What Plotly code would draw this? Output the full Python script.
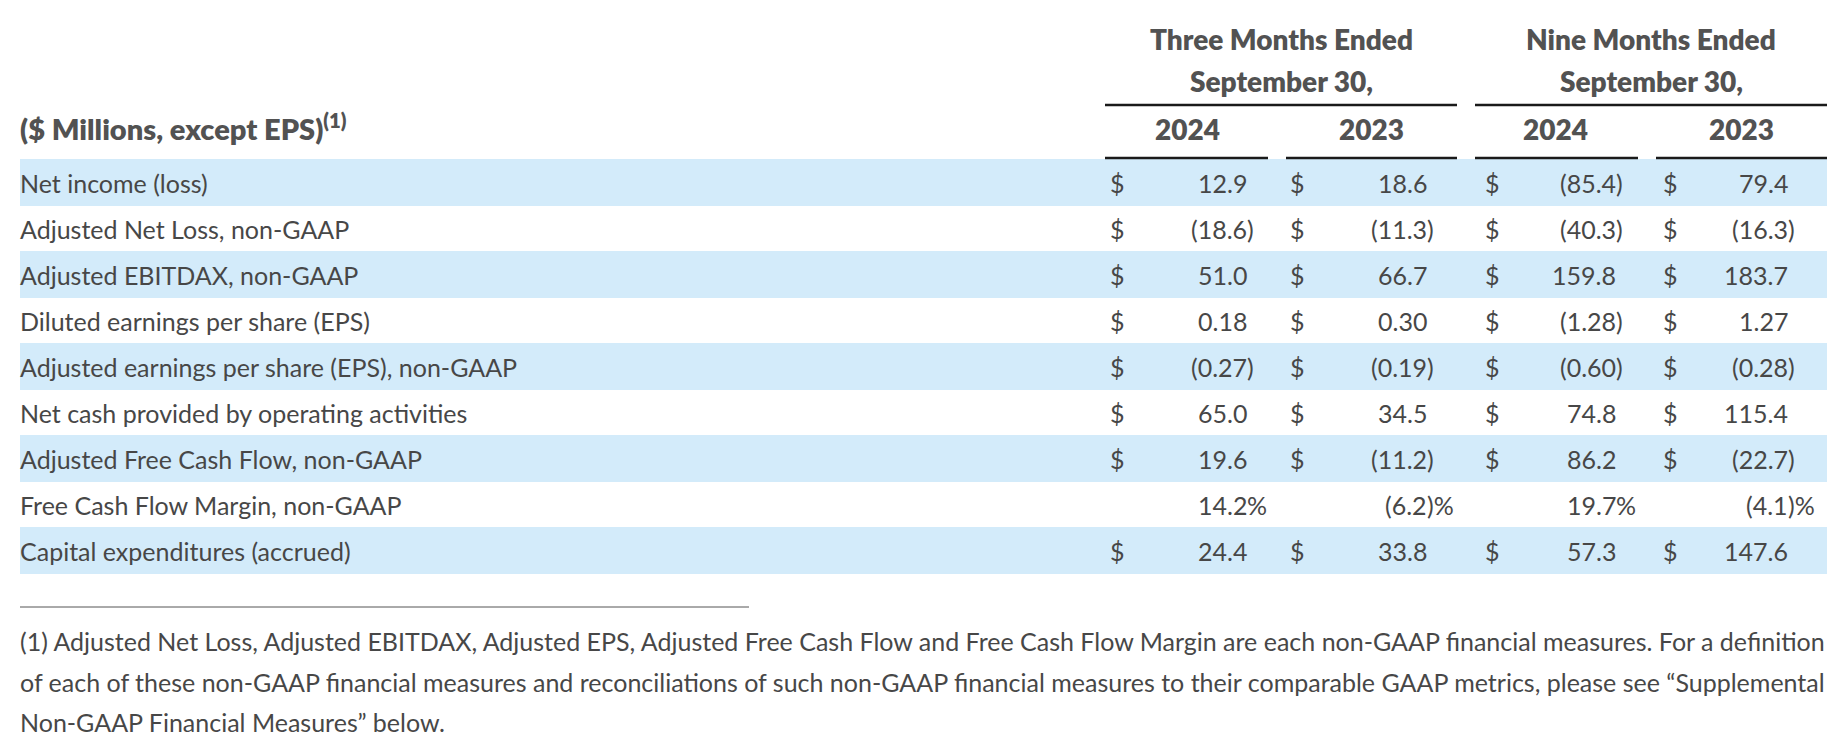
import plotly.graph_objects as go

# ---------------- data ----------------
row_labels = [
    "Net income (loss)",
    "Adjusted Net Loss, non-GAAP",
    "Adjusted EBITDAX, non-GAAP",
    "Diluted earnings per share (EPS)",
    "Adjusted earnings per share (EPS), non-GAAP",
    "Net cash provided by operating activities",
    "Adjusted Free Cash Flow, non-GAAP",
    "Free Cash Flow Margin, non-GAAP",
    "Capital expenditures (accrued)",
]
three_2024 = [12.9, -18.6, 51.0, 0.18, -0.27, 65.0, 19.6, 14.2, 24.4]
three_2023 = [18.6, -11.3, 66.7, 0.30, -0.19, 34.5, -11.2, -6.2, 33.8]
nine_2024 = [-85.4, -40.3, 159.8, -1.28, -0.60, 74.8, 86.2, 19.7, 57.3]
nine_2023 = [79.4, -16.3, 183.7, 1.27, -0.28, 115.4, -22.7, -4.1, 147.6]
row_units = ["$", "$", "$", "$", "$", "$", "$", "%", "$"]
row_decimals = [1, 1, 1, 2, 2, 1, 1, 1, 1]

group_titles = [["Three Months Ended", "September 30,"], ["Nine Months Ended", "September 30,"]]
year_labels = ["2024", "2023", "2024", "2023"]
header_label = "($ Millions, except EPS)<sup>(1)</sup>"
footnote_lines = [
    "(1) Adjusted Net Loss, Adjusted EBITDAX, Adjusted EPS, Adjusted Free Cash Flow and Free Cash Flow Margin are each non-GAAP financial measures. For a definition",
    "of each of these non-GAAP financial measures and reconciliations of such non-GAAP financial measures to their comparable GAAP metrics, please see \u201cSupplemental",
    "Non-GAAP Financial Measures\u201d below.",
]

# ---------------- layout constants ----------------
W, H = 1844, 754
FONT = "Lato"
BODY = "#474747"
HEAD = "#525252"
BAND = "#d3ebfa"
RULE = "#1a1a1a"

ROW0, PITCH, BAND_HALF = 182.5, 46.0, 23.5
LEFT, RIGHT = 20, 1827
dollar_x = [1110, 1290, 1485, 1663]
digit_edge = [1247, 1427, 1616, 1788]
year_cx = [1187, 1371, 1555, 1741]
year_rule = [(1105, 1268), (1286, 1457), (1475, 1638), (1656, 1827)]
group_rule = [(1105, 1457), (1475, 1827)]
BODY_SIZE = 25
HEAD_SIZE = 28

columns = [three_2024, three_2023, nine_2024, nine_2023]

fig = go.Figure()
shapes = []
ann = []


def txt(x, y, s, xa="left", size=BODY_SIZE, color=BODY, weight=400):
    ann.append(dict(x=x, y=y, xref="x", yref="y", text=s, showarrow=False,
                    xanchor=xa, yanchor="middle", borderpad=0, borderwidth=0,
                    font=dict(family=FONT, size=size, color=color, weight=weight)))


# bands
for i in range(len(row_labels)):
    yc = ROW0 + PITCH * i
    if i % 2 == 0:
        shapes.append(dict(type="rect", xref="x", yref="y", x0=LEFT, x1=RIGHT,
                           y0=yc - BAND_HALF, y1=yc + BAND_HALF,
                           fillcolor=BAND, line=dict(width=0), layer="below"))

# header rules
for x0, x1 in group_rule:
    shapes.append(dict(type="line", xref="x", yref="y", x0=x0, x1=x1, y0=105, y1=105,
                       line=dict(color=RULE, width=2.5)))
for x0, x1 in year_rule:
    shapes.append(dict(type="line", xref="x", yref="y", x0=x0, x1=x1, y0=158, y1=158,
                       line=dict(color=RULE, width=2.5)))
# footnote rule
shapes.append(dict(type="line", xref="x", yref="y", x0=LEFT, x1=749, y0=607, y1=607,
                   line=dict(color="#555555", width=1)))

# headers
for g, (x0, x1) in enumerate(group_rule):
    for j, line in enumerate(group_titles[g]):
        txt((x0 + x1) / 2, 39 + 42 * j, line, xa="center", size=HEAD_SIZE, color=HEAD, weight=800)
for k, lab in enumerate(year_labels):
    txt(year_cx[k], 129, lab, xa="center", size=HEAD_SIZE, color=HEAD, weight=800)
txt(LEFT, 127, header_label, size=HEAD_SIZE + 1, color=HEAD, weight=800)

# body
for i, lab in enumerate(row_labels):
    yc = ROW0 + PITCH * i
    txt(LEFT, yc, lab)
    for c, col in enumerate(columns):
        v = col[i]
        if row_units[i] == "$":
            txt(dollar_x[c], yc, "$")
        core = f"{abs(v):.{row_decimals[i]}f}"
        if v < 0:
            core = "(" + core
        suffix = (")" if v < 0 else "") + ("%" if row_units[i] == "%" else "")
        txt(digit_edge[c], yc, core, xa="right")
        if suffix:
            txt(digit_edge[c], yc, suffix, xa="left")

# footnote
for j, line in enumerate(footnote_lines):
    txt(LEFT, 641 + 40.5 * j, line)

fig.update_layout(
    width=W, height=H, margin=dict(l=0, r=0, t=0, b=0),
    paper_bgcolor="white", plot_bgcolor="white",
    xaxis=dict(range=[0, W], visible=False, fixedrange=True),
    yaxis=dict(range=[H, 0], visible=False, fixedrange=True),
    shapes=shapes, annotations=ann, showlegend=False,
)
fig.write_html("out.html", config={"displayModeBar": False},
               post_script="document.body.style.margin='0';document.body.style.overflow='hidden';")
